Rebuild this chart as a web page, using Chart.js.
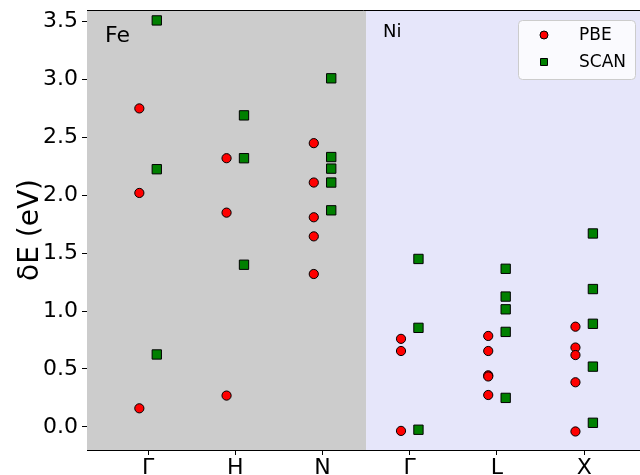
<!DOCTYPE html>
<html>
<head>
<meta charset="utf-8">
<script src="https://cdn.jsdelivr.net/npm/chart.js@4"></script>
<style>
  html, body { margin: 0; padding: 0; background: #fff; overflow: hidden; }
  #wrap { width: 640px; height: 475px; overflow: hidden; }
</style>
</head>
<body>
<div id="wrap"><canvas id="chart" width="648" height="475"></canvas></div>
<script>
// k-point labels (Fe: Γ H N, Ni: Γ L X)
const kLabels = ['Γ', 'H', 'N', 'Γ', 'L', 'X'];

// energies per k-point (eV)
const pbeValues = [
  [2.75, 2.02, 0.16],
  [2.32, 1.85, 0.27],
  [2.45, 2.11, 1.81, 1.645, 1.32],
  [0.76, 0.655, -0.035],
  [0.785, 0.655, 0.445, 0.435, 0.275],
  [0.865, 0.685, 0.62, 0.385, -0.04]
];
const scanValues = [
  [3.51, 2.225, 0.625],
  [2.69, 2.32, 1.40],
  [3.01, 2.33, 2.23, 2.11, 1.87],
  [1.45, 0.855, -0.025],
  [1.365, 1.125, 1.015, 0.82, 0.25],
  [1.67, 1.19, 0.89, 0.52, 0.035]
];
const yTicks = [0.0, 0.5, 1.0, 1.5, 2.0, 2.5, 3.0, 3.5];

const FONT = "'DejaVu Sans', sans-serif";
const shift = 0.1;

function toPoints(groups, dx) {
  const pts = [];
  groups.forEach((vals, i) => {
    vals.forEach(v => pts.push({ x: i + dx, y: v }));
  });
  return pts;
}

// shaded panels, element labels, top spine, legend
const decorPlugin = {
  id: 'decor',
  beforeDatasetsDraw(chart) {
    const { ctx, chartArea, scales } = chart;
    const split = scales.x.getPixelForValue(2.5);
    ctx.save();
    ctx.fillStyle = '#cccccc';
    ctx.fillRect(chartArea.left, chartArea.top, split - chartArea.left, chartArea.bottom - chartArea.top);
    ctx.fillStyle = '#e6e6fa';
    ctx.fillRect(split, chartArea.top, chartArea.right - split, chartArea.bottom - chartArea.top);

    ctx.fillStyle = '#000';
    ctx.textBaseline = 'alphabetic';
    ctx.textAlign = 'left';
    ctx.font = '22px ' + FONT;
    ctx.fillText('Fe', 105, 42);
    ctx.font = '18px ' + FONT;
    ctx.fillText('Ni', 383, 37);

    // top spine
    ctx.strokeStyle = '#000';
    ctx.lineWidth = 1;
    ctx.beginPath();
    ctx.moveTo(chartArea.left, chartArea.top + 0.5);
    ctx.lineTo(chartArea.right, chartArea.top + 0.5);
    ctx.stroke();
    ctx.restore();
  },
  afterDraw(chart) {
    const { ctx } = chart;
    ctx.save();
    // legend box
    const bx = 518.5, by = 20.5, bw = 117, bh = 59, r = 4;
    ctx.beginPath();
    ctx.moveTo(bx + r, by);
    ctx.arcTo(bx + bw, by, bx + bw, by + bh, r);
    ctx.arcTo(bx + bw, by + bh, bx, by + bh, r);
    ctx.arcTo(bx, by + bh, bx, by, r);
    ctx.arcTo(bx, by, bx + bw, by, r);
    ctx.closePath();
    ctx.fillStyle = 'rgba(255,255,255,0.8)';
    ctx.fill();
    ctx.strokeStyle = '#cccccc';
    ctx.lineWidth = 1;
    ctx.stroke();

    chart.data.datasets.forEach((ds, i) => {
      const y = 35 + i * 27;
      ctx.fillStyle = ds.backgroundColor;
      ctx.strokeStyle = '#000';
      ctx.lineWidth = 1;
      ctx.beginPath();
      if (ds.pointStyle === 'rect') {
        ctx.rect(540.5, y - 3.5, 7, 7);
      } else {
        ctx.arc(544, y, 4, 0, Math.PI * 2);
      }
      ctx.fill();
      ctx.stroke();
      ctx.fillStyle = '#000';
      ctx.font = '17px ' + FONT;
      ctx.textAlign = 'left';
      ctx.textBaseline = 'middle';
      ctx.fillText(ds.label, 579, y + 1);
    });
    ctx.restore();
  }
};

new Chart(document.getElementById('chart'), {
  type: 'scatter',
  data: {
    datasets: [
      {
        label: 'PBE',
        data: toPoints(pbeValues, -shift),
        pointStyle: 'circle',
        pointRadius: 4.6,
        pointHoverRadius: 4.6,
        backgroundColor: '#ff0000',
        borderColor: '#000000',
        borderWidth: 1
      },
      {
        label: 'SCAN',
        data: toPoints(scanValues, shift),
        pointStyle: 'rect',
        pointRadius: 6.6,
        pointHoverRadius: 6.6,
        backgroundColor: '#008000',
        borderColor: '#000000',
        borderWidth: 1
      }
    ]
  },
  options: {
    responsive: false,
    animation: false,
    events: [],
    layout: { padding: { left: 0, right: 8, top: 10, bottom: 0 } },
    plugins: {
      legend: { display: false },
      tooltip: { enabled: false }
    },
    scales: {
      x: {
        type: 'linear',
        min: -0.7,
        max: 5.64,
        afterBuildTicks: s => { s.ticks = kLabels.map((_, i) => ({ value: i })); },
        afterFit: s => { s.height = 25; s.paddingLeft = 0; s.paddingRight = 0; },
        ticks: {
          callback: v => kLabels[v],
          color: '#000',
          font: { family: FONT, size: 22 },
          padding: 0,
          maxRotation: 0,
          autoSkip: false
        },
        grid: { drawOnChartArea: false, drawTicks: true, tickLength: 5, color: '#000' },
        border: { color: '#000', width: 1 }
      },
      y: {
        min: -0.2,
        max: 3.6,
        afterBuildTicks: s => { s.ticks = yTicks.map(v => ({ value: v })); },
        afterFit: s => { s.width = 87; s.paddingTop = 0; s.paddingBottom = 0; },
        ticks: {
          callback: v => v.toFixed(1),
          color: '#000',
          font: { family: FONT, size: 22 },
          padding: 4
        },
        grid: { drawOnChartArea: false, drawTicks: true, tickLength: 5, color: '#000' },
        border: { color: '#000', width: 1 },
        title: {
          display: true,
          text: 'δE (eV)',
          color: '#000',
          font: { family: FONT, size: 28 },
          padding: { top: 14, bottom: 0 }
        }
      }
    }
  },
  plugins: [decorPlugin]
});
</script>
</body>
</html>
